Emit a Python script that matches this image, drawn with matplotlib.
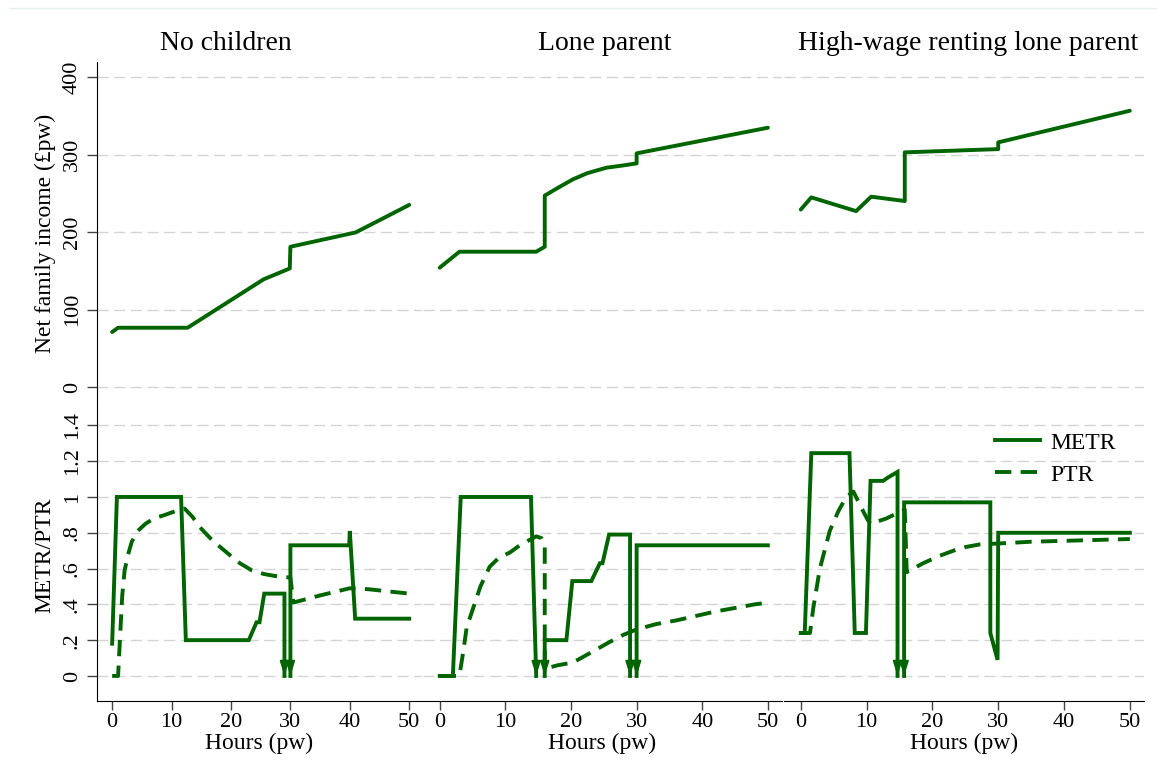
import numpy as np
import matplotlib.pyplot as plt
from matplotlib.lines import Line2D

plt.rcParams['font.family'] = ['Liberation Serif', 'DejaVu Serif']

GREEN = '#006400'
W, H = 1157, 771

titles = ['No children', 'Lone parent', 'High-wage renting lone parent']

# net family income (top row)
inc_h1 = [0, 1, 12.7, 25.5, 29.9, 30, 41, 50]
inc_v1 = [71, 76.5, 76.5, 139, 153, 181, 199.5, 235]
inc_h2 = [0, 3, 14.7, 16, 16, 18, 20.3, 22.5, 25.4, 28, 30, 30, 50]
inc_v2 = [154, 174.6, 174.6, 181, 247, 257, 268, 276, 283, 286, 288.6, 301.5, 334.6]
inc_h3 = [0, 1.6, 8.4, 10.7, 15.8, 15.8, 30, 30, 50]
inc_v3 = [229, 244.7, 227, 245.6, 240, 302.8, 307, 315.7, 356.5]

# METR (solid), nan = break where the rate runs off the scale
metr_h1 = [0, 0.8, 11.6, 12.4, 23, 24.3, 24.8, 25.6, 29, 29, np.nan, 30, 30, 39.9, 40, 40.9, 50]
metr_v1 = [0.18, 1, 1, 0.2, 0.2, 0.3, 0.3, 0.46, 0.46, 0, np.nan, 0, 0.73, 0.73, 0.81, 0.32, 0.32]
metr_h2 = [0, 2, 3.2, 13.9, 14.7, np.nan, 16, 16, 19.3, 20.2, 23.1, 24.4, 24.8, 25.8, 29, 29, np.nan, 30, 30, 50]
metr_v2 = [0, 0, 1, 1, 0, np.nan, 0, 0.2, 0.2, 0.53, 0.53, 0.63, 0.63, 0.79, 0.79, 0, np.nan, 0, 0.73, 0.73]
metr_h3 = [0, 0.6, 1.6, 7.4, 8.2, 9.9, 10.6, 12.5, 13.3, 14.7, 14.7, np.nan, 15.7, 15.7, 28.8, 28.8, 29.9, 30, 50]
metr_v3 = [0.24, 0.24, 1.245, 1.245, 0.24, 0.24, 1.09, 1.09, 1.11, 1.14, 0, np.nan, 0, 0.97, 0.97, 0.24, 0.09, 0.8, 0.8]

# hours where METR falls off the bottom of the scale (drawn as arrows)
drop_h1 = [29, 30]
drop_h2 = [14.7, 16, 29, 30]
drop_h3 = [14.7, 15.7]

# PTR (dashed)
ptr_h1 = [0, 1, 1.35, 1.7, 2.1, 2.7, 3.3, 4.3, 5.6, 7, 8.9, 11.4, 12.2, 13.5, 14.8, 16.5, 18.2, 20, 21.5,
          23.5, 25.5, 28, 30, 30.5, 35, 40, 43, 50]
ptr_v1 = [0, 0, 0.23, 0.45, 0.59, 0.68, 0.75, 0.81, 0.85, 0.88, 0.9, 0.93, 0.935, 0.89, 0.83, 0.77, 0.72,
          0.67, 0.63, 0.59, 0.57, 0.555, 0.55, 0.41, 0.45, 0.49, 0.485, 0.46]
ptr_h2 = [0, 3, 3.6, 4.1, 5.1, 6.2, 7.6, 9, 10.7, 12.2, 13.7, 14.7, 15.5, 16, 16, 18, 20.3, 23, 25.9, 28,
          30, 33, 36, 39, 42, 45, 48, 50]
ptr_v2 = [0, 0, 0.14, 0.27, 0.38, 0.5, 0.61, 0.66, 0.69, 0.73, 0.76, 0.78, 0.77, 0.73, 0.04, 0.06, 0.075,
          0.13, 0.19, 0.23, 0.26, 0.29, 0.31, 0.335, 0.36, 0.38, 0.4, 0.41]
ptr_h3 = [0, 1.4, 1.9, 2.9, 4.4, 5.7, 6.9, 8.0, 9.2, 10.2, 10.6, 13, 15.8, 16.1, 18.6, 21, 23.2, 25, 27.2,
          30, 35, 40, 45, 50]
ptr_v3 = [0.24, 0.24, 0.38, 0.6, 0.81, 0.92, 1.0, 1.03, 0.94, 0.87, 0.85, 0.88, 0.93, 0.58, 0.63, 0.67,
          0.7, 0.72, 0.735, 0.74, 0.75, 0.755, 0.76, 0.765]

inc = [(inc_h1, inc_v1), (inc_h2, inc_v2), (inc_h3, inc_v3)]
metr = [(metr_h1, metr_v1), (metr_h2, metr_v2), (metr_h3, metr_v3)]
ptr = [(ptr_h1, ptr_v1), (ptr_h2, ptr_v2), (ptr_h3, ptr_v3)]
drops = [drop_h1, drop_h2, drop_h3]

inc_ticks = [0, 100, 200, 300, 400]
rate_ticks = [0, 0.2, 0.4, 0.6, 0.8, 1, 1.2, 1.4]
rate_labels = ['0', '.2', '.4', '.6', '.8', '1', '1.2', '1.4']
hour_ticks = [0, 10, 20, 30, 40, 50]

cols = [(97, 422), (423, 782), (784, 1144)]
title_x = [226, 605, 968]
top_row = (62, 405)
bot_row = (405, 701)

LW = 2.8
DASH = (0, (4.2, 2.4))


def rect(l, r, t, b):
    return [l / W, 1 - b / H, (r - l) / W, (b - t) / H]


def style(ax, left):
    for s in ['top', 'right']:
        ax.spines[s].set_visible(False)
    ax.spines['left'].set_visible(left)
    ax.set_xlim(-2.55, 52.15)
    ax.set_axisbelow(True)
    ax.yaxis.grid(True, color='#d4d4d4', linestyle=(0, (8, 4)), linewidth=1.0)
    ax.tick_params(axis='y', length=7 if left else 0, width=1, color='#444444', labelsize=16,
                   pad=4, labelleft=left)
    if left:
        plt.setp(ax.get_yticklabels(), rotation=90, va='center')


fig = plt.figure(figsize=(W / 100, H / 100), dpi=100)
fig.add_artist(Line2D([10 / W, 1], [1 - 8 / H, 1 - 8 / H], color='#e6eeee', lw=1))

for i in range(3):
    l, r = cols[i]
    left = (i == 0)

    ax1 = fig.add_axes(rect(l, r, *top_row))
    ax1.plot(inc[i][0], inc[i][1], color=GREEN, lw=LW, solid_joinstyle='round', solid_capstyle='round')
    ax1.set_ylim(-23.2, 419.4)
    ax1.set_yticks(inc_ticks)
    ax1.spines['bottom'].set_visible(False)
    ax1.tick_params(axis='x', bottom=False, labelbottom=False)
    style(ax1, left)

    ax2 = fig.add_axes(rect(l, r, *bot_row))
    ax2.plot(ptr[i][0], ptr[i][1], color=GREEN, lw=LW, linestyle=DASH, label='PTR')
    ax2.plot(metr[i][0], metr[i][1], color=GREEN, lw=LW, solid_joinstyle='miter', label='METR')
    for h in drops[i]:
        ax2.annotate('', xy=(h, 0), xytext=(h, 0.08),
                     arrowprops=dict(arrowstyle='-|>,head_length=0.7,head_width=0.22', color=GREEN,
                                     lw=1.5, shrinkA=0, shrinkB=0, mutation_scale=12))
    ax2.set_ylim(-0.14, 1.514)
    ax2.set_yticks(rate_ticks)
    ax2.set_yticklabels(rate_labels)
    ax2.set_xticks(hour_ticks)
    ax2.tick_params(axis='x', length=6.5, width=1, color='#444444', labelsize=16, pad=2)
    ax2.set_xlabel('Hours (pw)', fontsize=17, labelpad=1)
    style(ax2, left)

    fig.text(title_x[i] / W, 1 - 43 / H, titles[i], fontsize=20, ha='center', va='center')

    if i == 2:
        handles = [Line2D([], [], color=GREEN, lw=LW),
                   Line2D([], [], color=GREEN, lw=LW, linestyle=DASH)]
        ax2.legend(handles, ['METR', 'PTR'], loc='upper left', bbox_to_anchor=(995 / W, 1 - 432 / H),
                   bbox_transform=fig.transFigure, frameon=False, fontsize=17, handlelength=1.9,
                   handletextpad=0.45, labelspacing=0.45, borderpad=0, borderaxespad=0)

fig.text(45 / W, 1 - 233 / H, 'Net family income (£pw)', fontsize=17, rotation=90, ha='center', va='center')
fig.text(45 / W, 1 - 555 / H, 'METR/PTR', fontsize=17, rotation=90, ha='center', va='center')

fig.savefig('out.png', dpi=100, facecolor='white')
